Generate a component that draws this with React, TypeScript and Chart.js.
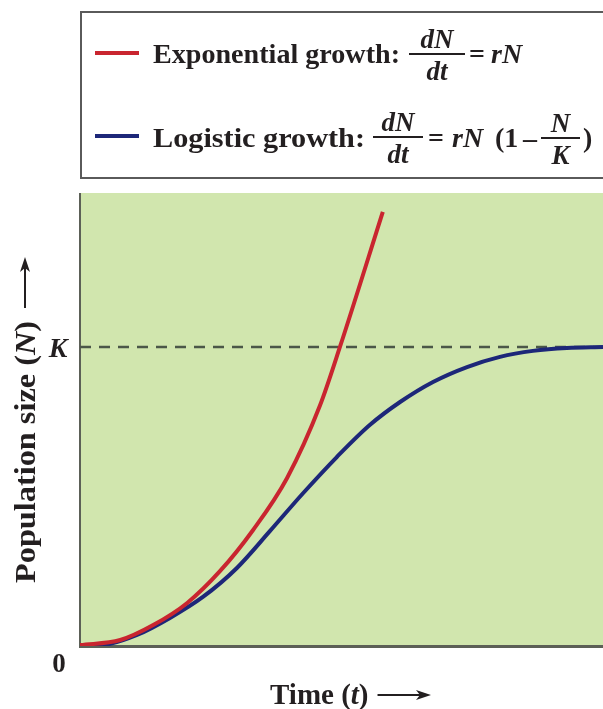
import React, { useEffect, useRef } from "react";
import { Chart, registerables } from "chart.js";

Chart.register(...registerables);

// ---- data (time t, population size N; K = 100) ----
const exponentialTime = [0, 0.77, 1.4, 2.05, 2.68, 3.31, 3.96, 4.59, 4.97, 5.79];
const exponentialSize = [0.3, 2.0, 7.0, 14.4, 25.1, 38.8, 56.2, 80.5, 100, 145.2];

const logisticTime = [0, 0.44, 1.09, 1.72, 2.35, 3.0, 3.63, 4.26, 4.91, 5.54, 6.12, 6.75, 7.4, 8.03, 8.66, 9.31, 10];
const logisticSize = [0, 0.3, 3.7, 9.4, 16.4, 26.1, 38.4, 51.0, 63.2, 73.9, 81.6, 88.3, 93.3, 96.7, 98.7, 99.7, 100];

const carryingCapacityTime = [0, 10];
const carryingCapacitySize = [100, 100];

const yTickValues = [0, 100];
const yTickLabels = ["0", "K"];
const seriesLabels = ["Exponential growth", "Logistic growth", "Carrying capacity"];

const xMin = 0;
const xMax = 10;
const yMin = 0;
const yMax = 151.5;

// ---- styles ----
const SERIF = "'Liberation Serif', 'Times New Roman', serif";
const B = (px: number) => `bold ${px}px ${SERIF}`;
const BI = (px: number) => `italic bold ${px}px ${SERIF}`;
const INK = "#231f20";
const RED = "#c9252f";
const BLUE = "#1d2779";
const GREEN_BG = "#d1e6ae";

function txt(ctx: CanvasRenderingContext2D, s: string, x: number, y: number, font: string, align: CanvasTextAlign = "left") {
  ctx.font = font;
  ctx.textAlign = align;
  ctx.fillText(s, x, y);
  const w = ctx.measureText(s).width;
  return align === "left" ? x + w : x + w / 2;
}

// text stretched horizontally so that it spans exactly `width` pixels
function txtFit(ctx: CanvasRenderingContext2D, s: string, x: number, y: number, font: string, width: number) {
  ctx.font = font;
  ctx.textAlign = "left";
  const w = ctx.measureText(s).width;
  const k = width / w;
  ctx.save();
  ctx.translate(x, y);
  ctx.scale(k, 1);
  ctx.fillText(s, 0, 0);
  ctx.restore();
  return x + width;
}

function hLine(ctx: CanvasRenderingContext2D, x1: number, x2: number, y: number, w: number, color: string) {
  ctx.strokeStyle = color;
  ctx.lineWidth = w;
  ctx.beginPath();
  ctx.moveTo(x1, y);
  ctx.lineTo(x2, y);
  ctx.stroke();
}

function arrow(ctx: CanvasRenderingContext2D, x1: number, y: number, x2: number) {
  ctx.strokeStyle = INK;
  ctx.fillStyle = INK;
  ctx.lineWidth = 2;
  ctx.beginPath();
  ctx.moveTo(x1, y);
  ctx.lineTo(x2 - 8, y);
  ctx.stroke();
  ctx.beginPath();
  ctx.moveTo(x2, y);
  ctx.lineTo(x2 - 15, y - 5);
  ctx.lineTo(x2 - 11, y);
  ctx.lineTo(x2 - 15, y + 5);
  ctx.closePath();
  ctx.fill();
}

function fraction(ctx: CanvasRenderingContext2D, num: string, den: string, x1: number, x2: number, barY: number, px: number) {
  const cx = (x1 + x2) / 2;
  ctx.fillStyle = INK;
  txt(ctx, num, cx, barY - 6, BI(px), "center");
  txt(ctx, den, cx, barY + 26, BI(px), "center");
  hLine(ctx, x1, x2, barY, 2, INK);
}

const decorPlugin = {
  id: "decor",
  beforeDatasetsDraw(chart: any) {
    const { ctx, chartArea: a } = chart;
    ctx.save();
    ctx.fillStyle = GREEN_BG;
    ctx.fillRect(a.left, a.top, a.right - a.left, a.bottom - a.top);
    ctx.strokeStyle = "#5c6057";
    ctx.lineWidth = 2;
    ctx.beginPath();
    ctx.moveTo(a.left, a.top);
    ctx.lineTo(a.left, a.bottom + 1);
    ctx.stroke();
    ctx.lineWidth = 3;
    ctx.beginPath();
    ctx.moveTo(a.left - 1, a.bottom + 0.5);
    ctx.lineTo(a.right, a.bottom + 0.5);
    ctx.stroke();
    ctx.restore();
  },
  afterDraw(chart: any) {
    const { ctx, scales } = chart;
    const y = scales.y;
    ctx.save();
    ctx.textBaseline = "alphabetic";
    ctx.fillStyle = INK;

    // ---- legend box ----
    ctx.strokeStyle = "#5a5a5a";
    ctx.lineWidth = 2;
    ctx.beginPath();
    ctx.moveTo(610, 12);
    ctx.lineTo(81, 12);
    ctx.lineTo(81, 178);
    ctx.lineTo(610, 178);
    ctx.stroke();

    // row 1: exponential
    hLine(ctx, 95, 139, 53, 4, RED);
    ctx.fillStyle = INK;
    txtFit(ctx, "Exponential growth:", 153, 63, B(28), 247);
    fraction(ctx, "dN", "dt", 409, 465, 54, 27);
    ctx.fillStyle = INK;
    txt(ctx, "=", 469, 63, B(28));
    txt(ctx, "rN", 491, 63, BI(28));

    // row 2: logistic
    hLine(ctx, 95, 139, 136, 4, BLUE);
    ctx.fillStyle = INK;
    txtFit(ctx, "Logistic growth:", 153, 147, B(28), 212);
    fraction(ctx, "dN", "dt", 373, 423, 137, 27);
    ctx.fillStyle = INK;
    txt(ctx, "=", 428, 147, B(28));
    txt(ctx, "rN", 452, 147, BI(28));
    txt(ctx, "(1", 495, 147, B(28));
    txt(ctx, "\u2013", 523, 147, B(28));
    fraction(ctx, "N", "K", 541, 580, 138, 27);
    ctx.fillStyle = INK;
    txt(ctx, ")", 583, 147, B(28));

    // ---- y tick labels (0 and K) ----
    const y0 = y.getPixelForValue(yTickValues[0]);
    const yK = y.getPixelForValue(yTickValues[1]);
    txt(ctx, yTickLabels[0], 59, y0 + 26, B(27), "center");
    txt(ctx, yTickLabels[1], 58, yK + 10, BI(28), "center");

    // ---- x axis title ----
    let x = txt(ctx, "Time (", 270, 704, B(29));
    x = txt(ctx, "t", x, 704, BI(29));
    x = txt(ctx, ")", x, 704, B(29));
    arrow(ctx, x + 9, 695, 431);

    // ---- y axis title (rotated), stretched to the reference length ----
    ctx.translate(35, 583);
    ctx.rotate(-Math.PI / 2);
    ctx.fillStyle = INK;
    ctx.font = B(29);
    const w1 = ctx.measureText("Population size (").width;
    ctx.font = BI(29);
    const w2 = ctx.measureText("N").width;
    ctx.font = B(29);
    const w3 = ctx.measureText(")").width;
    const k = 262 / (w1 + w2 + w3);
    ctx.save();
    ctx.scale(k, 1);
    let lx = txt(ctx, "Population size (", 0, 0, B(29));
    lx = txt(ctx, "N", lx, 0, BI(29));
    lx = txt(ctx, ")", lx, 0, B(29));
    ctx.restore();
    arrow(ctx, 275, -10, 326);

    ctx.restore();
  },
};

const toPoints = (xs: number[], ys: number[]) => xs.map((v, i) => ({ x: v, y: ys[i] }));

export default function App() {
  const canvasRef = useRef<HTMLCanvasElement | null>(null);

  useEffect(() => {
    const canvas = canvasRef.current;
    if (!canvas) return;
    const chart = new Chart(canvas, {
      type: "line",
      data: {
        datasets: [
          {
            label: seriesLabels[0],
            data: toPoints(exponentialTime, exponentialSize),
            borderColor: RED,
            borderWidth: 4,
            pointRadius: 0,
            cubicInterpolationMode: "monotone",
            fill: false,
          },
          {
            label: seriesLabels[1],
            data: toPoints(logisticTime, logisticSize),
            borderColor: BLUE,
            borderWidth: 4,
            pointRadius: 0,
            cubicInterpolationMode: "monotone",
            fill: false,
          },
          {
            label: seriesLabels[2],
            data: toPoints(carryingCapacityTime, carryingCapacitySize),
            borderColor: "#4b5748",
            borderWidth: 2.5,
            borderDash: [11, 8],
            pointRadius: 0,
            fill: false,
          },
        ],
      },
      options: {
        animation: false,
        responsive: false,
        maintainAspectRatio: false,
        devicePixelRatio: 1,
        layout: { padding: { left: 80, right: 0, top: 193, bottom: 63 } },
        plugins: {
          legend: { display: false },
          tooltip: { enabled: false },
          title: { display: false },
        },
        scales: {
          x: { type: "linear", min: xMin, max: xMax, display: false },
          y: { type: "linear", min: yMin, max: yMax, display: false },
        },
      },
      plugins: [decorPlugin],
    });
    return () => chart.destroy();
  }, []);

  return (
    <div style={{ position: "fixed", left: 0, top: 0, width: 603, height: 709, background: "#fff" }}>
      <canvas ref={canvasRef} width={603} height={709} style={{ display: "block" }} />
    </div>
  );
}
